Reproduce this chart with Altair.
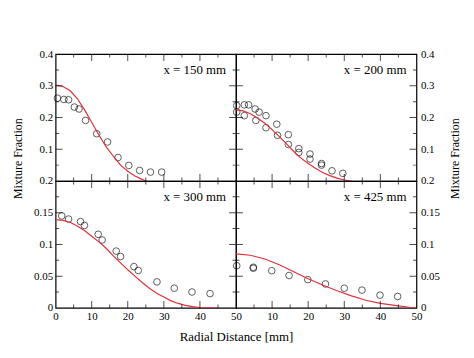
import altair as alt
import pandas as pd

FONT = "Liberation Serif, Times New Roman, serif"
RED = "#e0303a"

PANEL_TITLES = ["x = 150 mm", "x = 200 mm", "x = 300 mm", "x = 425 mm"]

# ---- measured points (radial distance mm, mixture fraction) ----
TL_X = [0.5, 2.3, 3.6, 5.2, 6.5, 8.3, 11.4, 14.4, 17.3, 20.3, 23.3, 26.3, 29.4]
TL_Y = [0.261, 0.257, 0.256, 0.233, 0.227, 0.191, 0.149, 0.123, 0.074, 0.049, 0.033, 0.028, 0.028]

TR_X = [0.2, 0.2, 2.3, 2.3, 3.5, 5.3, 5.5, 6.4, 8.3, 8.3, 11.3, 11.5, 14.5, 14.5,
        17.4, 17.4, 20.5, 20.5, 23.7, 23.7, 26.6, 29.6]
TR_Y = [0.2375, 0.217, 0.240, 0.206, 0.240, 0.227, 0.191, 0.217, 0.206, 0.168, 0.179, 0.144,
        0.146, 0.115, 0.102, 0.090, 0.085, 0.069, 0.055, 0.050, 0.032, 0.024]

BL_X = [1.7, 3.6, 6.9, 8.0, 11.8, 12.9, 16.8, 18.0, 21.7, 22.9, 28.1, 32.9, 37.8, 42.8]
BL_Y = [0.145, 0.140, 0.136, 0.130, 0.116, 0.107, 0.0895, 0.081, 0.065, 0.059, 0.041, 0.031, 0.025, 0.0225]

BR_X = [0.2, 4.8, 4.8, 9.9, 14.7, 19.9, 24.8, 30.0, 34.9, 39.9, 44.8]
BR_Y = [0.0665, 0.064, 0.0625, 0.0586, 0.051, 0.0445, 0.0377, 0.031, 0.028, 0.020, 0.018]

# ---- model curves ----
TL_LX = [0, 2, 4, 6, 8, 10, 12, 14, 16, 18, 20, 22, 24, 25]
TL_LY = [0.302, 0.298, 0.285, 0.260, 0.225, 0.185, 0.145, 0.108, 0.078, 0.050, 0.031, 0.016, 0.005, 0.0]

TR_LX = [0, 2, 4, 6, 8, 10, 12, 14, 16, 18, 20, 22, 24, 26, 28, 30, 32]
TR_LY = [0.224, 0.221, 0.212, 0.198, 0.182, 0.162, 0.140, 0.117, 0.093, 0.072, 0.055, 0.040,
         0.027, 0.017, 0.009, 0.003, 0.0]

BL_LX = [0, 2, 4, 6, 8, 10, 12, 14, 16, 18, 20, 22, 24, 26, 28, 30, 32, 34, 36, 38, 40, 42, 45]
BL_LY = [0.139, 0.138, 0.135, 0.129, 0.122, 0.113, 0.104, 0.094, 0.082, 0.071, 0.060, 0.050,
         0.040, 0.031, 0.023, 0.017, 0.011, 0.007, 0.004, 0.002, 0.0005, 0.0, 0.0]

BR_LX = [0, 4, 8, 12, 16, 20, 24, 28, 32, 36, 40, 44, 48, 50]
BR_LY = [0.085, 0.083, 0.077, 0.068, 0.057, 0.046, 0.036, 0.027, 0.019, 0.012, 0.007, 0.004, 0.001, 0.0]

# ---- tick values ----
X_TICKS = [5, 10, 15, 20, 25, 30, 35, 40, 45]
X_TICK_LEN = [7, 14, 7, 14, 7, 14, 7, 14, 7]
YT_TICKS = [0.05, 0.1, 0.15, 0.2, 0.25, 0.3, 0.35]
YT_TICK_LEN = [7, 14, 7, 14, 7, 14, 7]
YB_TICKS = [0.025, 0.05, 0.075, 0.1, 0.125, 0.15, 0.175]
YB_TICK_LEN = [7, 14, 7, 14, 7, 14, 7]

YT_LABELS = [0.1, 0.2, 0.3, 0.4]
YB_LABELS = [0, 0.05, 0.1, 0.15, 0.2]
XL_LABELS = [0, 10, 20, 30, 40, 50]
XR_LABELS = [10, 20, 30, 40, 50]

W, H = 182, 128


def panel(px, py, lx, ly, title, ydom, yt, ytl, yaxis, xaxis):
    xs = alt.Scale(domain=[0, 50], nice=False, zero=False)
    ys = alt.Scale(domain=ydom, nice=False, zero=False)
    pts = alt.Chart(pd.DataFrame({"r": px, "f": py})).mark_point(
        shape="circle", filled=False, color="black", size=45, strokeWidth=0.9
    ).encode(x=alt.X("r:Q", scale=xs, axis=xaxis), y=alt.Y("f:Q", scale=ys, axis=yaxis))
    line = alt.Chart(pd.DataFrame({"r": lx, "f": ly})).mark_line(
        color=RED, strokeWidth=1.2, clip=True
    ).encode(x=alt.X("r:Q", scale=xs, axis=xaxis), y=alt.Y("f:Q", scale=ys, axis=yaxis))
    xt = pd.DataFrame({"r": X_TICKS, "len": X_TICK_LEN})
    ytd = pd.DataFrame({"f": yt, "len": ytl})
    layers = [pts, line]
    for ypos in [0, H]:
        layers.append(
            alt.Chart(xt).mark_tick(color="black", thickness=1, clip=True).encode(
                x=alt.X("r:Q", scale=xs, axis=xaxis),
                y=alt.value(ypos),
                size=alt.Size("len:Q", scale=None, legend=None),
            )
        )
    for xpos in [0, W]:
        layers.append(
            alt.Chart(ytd).mark_tick(color="black", thickness=1, clip=True).encode(
                y=alt.Y("f:Q", scale=ys, axis=yaxis),
                x=alt.value(xpos),
                size=alt.Size("len:Q", scale=None, legend=None),
            )
        )
    lab = alt.Chart(pd.DataFrame({"t": [title]})).mark_text(
        align="right", baseline="middle", font=FONT, fontSize=13, color="black"
    ).encode(text="t:N", x=alt.value(W - 10), y=alt.value(16))
    layers.append(lab)
    return alt.layer(*layers).properties(width=W, height=H)


common = dict(ticks=False, domain=False, grid=False, labelFont=FONT, labelFontSize=11,
              labelColor="black", labelOverlap=False, labelFlush=False,
              titleFont=FONT, titleFontWeight="normal", titleColor="black")

ytitle = dict(title="Mixture Fraction", titleFontSize=12, titleAngle=270,
              titleAlign="center", titleBaseline="middle", titleY=105)

ax_tl = alt.Axis(values=YT_LABELS, format=".2~f", orient="left", labelPadding=3,
                 titleX=-38, **ytitle, **common)
ax_tr = alt.Axis(values=YT_LABELS, format=".2~f", orient="right", labelPadding=4,
                 titleX=38, **ytitle, **common)
ax_bl_y = alt.Axis(values=YB_LABELS, format=".2~f", orient="left", labelPadding=3,
                   title=None, **common)
ax_br_y = alt.Axis(values=YB_LABELS, format=".2~f", orient="right", labelPadding=4,
                   title=None, **common)
ax_bl_x = alt.Axis(values=XL_LABELS, format="d", labelPadding=3,
                   title="Radial Distance [mm]", titleFontSize=13, titleX=W,
                   titleY=29, titleAlign="center", titleBaseline="middle", **common)
ax_br_x = alt.Axis(values=XR_LABELS, format="d", labelPadding=3, title=None, **common)

tl = panel(TL_X, TL_Y, TL_LX, TL_LY, PANEL_TITLES[0], [0, 0.4], YT_TICKS, YT_TICK_LEN, ax_tl, None)
tr = panel(TR_X, TR_Y, TR_LX, TR_LY, PANEL_TITLES[1], [0, 0.4], YT_TICKS, YT_TICK_LEN, ax_tr, None)
bl = panel(BL_X, BL_Y, BL_LX, BL_LY, PANEL_TITLES[2], [0, 0.2], YB_TICKS, YB_TICK_LEN, ax_bl_y, ax_bl_x)
br = panel(BR_X, BR_Y, BR_LX, BR_LY, PANEL_TITLES[3], [0, 0.2], YB_TICKS, YB_TICK_LEN, ax_br_y, ax_br_x)

chart = alt.concat(tl, tr, bl, br, columns=2, spacing=0, bounds="flush").properties(
    padding={"left": 3, "top": 38, "right": 5, "bottom": 5}
).configure_view(stroke="black", strokeWidth=1.2).configure_axis(
    labelFont=FONT, titleFont=FONT, labelColor="black", titleColor="black",
    titleFontWeight="normal"
).configure_text(font=FONT)

chart.config.style = {
    "guide-label": {"font": FONT, "fill": "black"},
    "guide-title": {"font": FONT, "fill": "black", "fontWeight": "normal"},
}

chart.save("out.html", embed_options={"renderer": "svg", "actions": False})
